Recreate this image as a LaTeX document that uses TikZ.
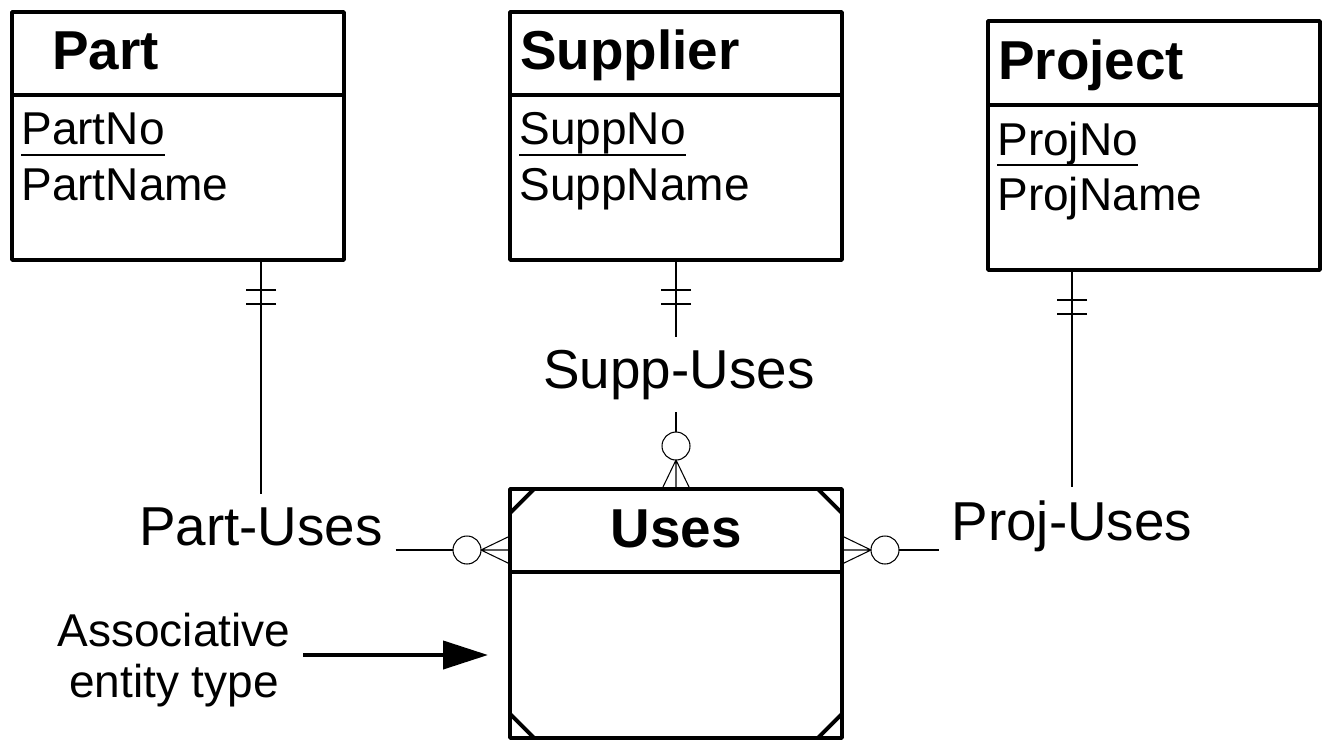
\documentclass[tikz,border=0pt]{standalone}
\usepackage{fontspec}
\setmainfont{Liberation Sans}
\usetikzlibrary{arrows.meta}
\newcommand\attrsize{\fontsize{26.2pt}{28.6pt}\selectfont}
\newcommand\namesize{\fontsize{31.2pt}{36pt}\selectfont}

\begin{document}
\begin{tikzpicture}[
	x=0.02cm,y=-0.02cm,
	entity/.style={draw,line width=2.2pt,line join=round,outer sep=0pt,inner sep=0pt,minimum width=6.64cm,minimum height=4.96cm},
	entname/.style={anchor=base west,inner sep=0pt,font=\namesize\bfseries},
	attr/.style={anchor=base west,inner sep=0pt,font=\attrsize},
	relname/.style={anchor=base,inner sep=0.25cm,font=\namesize},
	rel/.style={line width=0.6pt},
	divider/.style={line width=2.2pt,line cap=round},
	keyline/.style={line width=1.1pt},
	pointer/.style={line width=2.3pt,-{Triangle[length=0.9cm,width=0.56cm]}},
	manyfoot/.pic={
		\draw[rel] (29,0) -- (0,-14) (29,0) -- (0,0) (29,0) -- (0,14);
		\draw[rel] (43,0) circle [radius=0.28cm];
		\coordinate (-out) at (57,0);
	},
	onebar/.pic={
		\draw[rel] (30,-15) -- (30,15) (44,-15) -- (44,15);
	}
]
\useasboundingbox (0,0) rectangle (1332,750);

% entities
\node[entity] (part) at (178,136) {};
\node[entity] (supplier) at (676,136) {};
\node[entity,minimum height=4.98cm] (project) at (1154,145.5) {};
\node[entity,minimum height=4.98cm] (uses) at (676,613.5) {};

\draw[divider] (part.west |- 0,95) -- (part.east |- 0,95);
\draw[divider] (supplier.west |- 0,95) -- (supplier.east |- 0,95);
\draw[divider] (project.west |- 0,105) -- (project.east |- 0,105);
\draw[divider] (uses.west |- 0,572) -- (uses.east |- 0,572);

% associative corners
\draw[divider] ([yshift=-0.48cm]uses.north west) -- ([xshift=0.48cm]uses.north west);
\draw[divider] ([yshift=-0.48cm]uses.north east) -- ([xshift=-0.48cm]uses.north east);
\draw[divider] ([yshift=0.48cm]uses.south west) -- ([xshift=0.48cm]uses.south west);
\draw[divider] ([yshift=0.48cm]uses.south east) -- ([xshift=-0.48cm]uses.south east);

% names and attributes
\node[entname] (partname) at (52,70) {Part};
\node[attr] (partno) at (21,145) {PartNo};
\node[attr] (partnm) at (21,200) {PartName};
\draw[keyline] ([yshift=-0.2cm]partno.base west) -- ([yshift=-0.2cm]partno.base east);

\node[entname] (suppname) at (520,70) {Supplier};
\node[attr] (suppno) at (519,145) {SuppNo};
\node[attr] (suppnm) at (519,200) {SuppName};
\draw[keyline] ([yshift=-0.2cm]suppno.base west) -- ([yshift=-0.2cm]suppno.base east);

\node[entname] (projname) at (998,80) {Project};
\node[attr] (projno) at (997,155) {ProjNo};
\node[attr] (projnm) at (997,210) {ProjName};
\draw[keyline] ([yshift=-0.2cm]projno.base west) -- ([yshift=-0.2cm]projno.base east);

\node[anchor=base,inner sep=0pt,font=\namesize\bfseries] (usesname) at (676,547) {Uses};

% relationships
\node[relname] (partuses) at (261,545) {Part-Uses};
\node[relname] (suppuses) at (679,388) {Supp-Uses};
\node[relname] (projuses) at (1072,540) {Proj-Uses};

\coordinate (lfoot) at (510,550);
\coordinate (rfoot) at (842,550);

\pic[rotate=-90] at (part.south -| partuses) {onebar};
\pic[rotate=-90] at (supplier.south) {onebar};
\pic[rotate=-90] at (project.south -| projuses) {onebar};
\pic[rotate=180] (lf) at (lfoot) {manyfoot};
\pic[rotate=90] (tf) at (uses.north) {manyfoot};
\pic (rf) at (rfoot) {manyfoot};

\draw[rel] (part.south -| partuses) -- (partuses.north);
\draw[rel] (partuses.east |- lf-out) -- (lf-out);
\draw[rel] (supplier.south) -- (supplier.south |- suppuses.north);
\draw[rel] (supplier.south |- suppuses.south) -- (tf-out);
\draw[rel] (project.south -| projuses) -- (projuses.north);
\draw[rel] (rf-out) -- (projuses.west |- rf-out);

% note
\node[align=center,inner sep=0.25cm,font=\attrsize] (assoc) at (174,660) {Associative\\entity type};
\coordinate (tip) at (488,655);
\draw[pointer] (assoc.east |- tip) -- (tip);
\end{tikzpicture}
\end{document}
